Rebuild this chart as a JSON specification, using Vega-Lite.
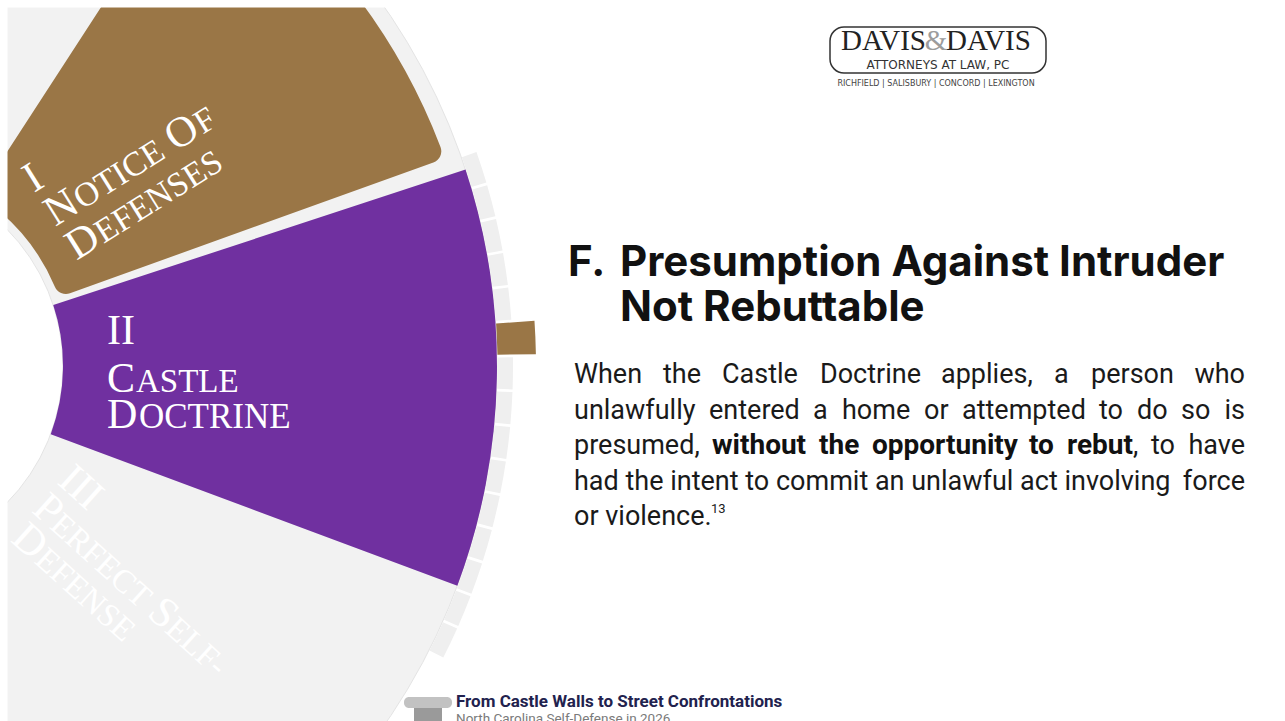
{
  "$schema": "https://vega.github.io/schema/vega-lite/v6.json",
  "width": 1285,
  "height": 721,
  "autosize": {"type": "none"},
  "padding": 0,
  "background": "white",
  "config": {"view": {"stroke": null}},
  "datasets": {
    "segments": [
      {"name": "ring", "start": 0, "end": 360},
      {"name": "I Notice of Defenses", "start": 33, "end": 70.2},
      {"name": "II Castle Doctrine", "start": 71.8, "end": 110.45}
    ],
    "ticks": [
      {"seg": 1, "start": 70.5, "end": 73.6, "kind": "rest"},
      {"seg": 2, "start": 73.6, "end": 76.7, "kind": "rest"},
      {"seg": 3, "start": 76.7, "end": 79.8, "kind": "rest"},
      {"seg": 4, "start": 79.8, "end": 82.9, "kind": "rest"},
      {"seg": 5, "start": 82.9, "end": 86.0, "kind": "rest"},
      {"seg": 6, "start": 86.0, "end": 89.1, "kind": "current"},
      {"seg": 7, "start": 89.1, "end": 92.2, "kind": "rest"},
      {"seg": 8, "start": 92.2, "end": 95.3, "kind": "rest"},
      {"seg": 9, "start": 95.3, "end": 98.4, "kind": "rest"},
      {"seg": 10, "start": 98.4, "end": 101.5, "kind": "rest"},
      {"seg": 11, "start": 101.5, "end": 104.6, "kind": "rest"},
      {"seg": 12, "start": 104.6, "end": 107.7, "kind": "rest"},
      {"seg": 13, "start": 107.7, "end": 110.8, "kind": "rest"},
      {"seg": 14, "start": 110.8, "end": 113.9, "kind": "rest"},
      {"seg": 15, "start": 113.9, "end": 117.0, "kind": "rest"}
    ]
  },
  "layer": [
    {
      "data": {"name": "segments"},
      "transform": [{"filter": "datum.name == 'ring'"}],
      "mark": {"type": "arc", "x": -132, "y": 366, "radius": 629, "radius2": 195, "fill": "#f2f2f2", "stroke": "#e4e4e4", "strokeWidth": 1},
      "encoding": {
        "theta": {"field": "start", "type": "quantitative", "stack": null, "scale": {"domain": [0, 360], "range": [0, 6.283185307179586]}},
        "theta2": {"field": "end"}
      }
    },
    {
      "data": {"name": "segments"},
      "transform": [{"filter": "datum.name == 'I Notice of Defenses'"}],
      "mark": {"type": "arc", "x": -132, "y": 366, "radius": 613, "radius2": 203, "cornerRadius": 12, "fill": "#9a7646"},
      "encoding": {
        "theta": {"field": "start", "type": "quantitative", "stack": null, "scale": {"domain": [0, 360], "range": [0, 6.283185307179586]}},
        "theta2": {"field": "end"}
      }
    },
    {
      "data": {"name": "segments"},
      "transform": [{"filter": "datum.name == 'II Castle Doctrine'"}],
      "mark": {"type": "arc", "x": -132, "y": 366, "radius": 629, "radius2": 195, "fill": "#7030a0"},
      "encoding": {
        "theta": {"field": "start", "type": "quantitative", "stack": null, "scale": {"domain": [0, 360], "range": [0, 6.283185307179586]}},
        "theta2": {"field": "end"}
      }
    },
    {
      "data": {"name": "ticks"},
      "transform": [{"filter": "datum.kind == 'rest'"}],
      "mark": {"type": "arc", "x": -132, "y": 366, "radius": 645, "radius2": 629.5, "padAngle": 0.003, "fill": "#efefef"},
      "encoding": {
        "theta": {"field": "start", "type": "quantitative", "stack": null, "scale": {"domain": [0, 360], "range": [0, 6.283185307179586]}},
        "theta2": {"field": "end"}
      }
    },
    {
      "data": {"name": "ticks"},
      "transform": [{"filter": "datum.kind == 'current'"}],
      "mark": {"type": "arc", "x": -132, "y": 366, "radius": 668, "radius2": 629.5, "padAngle": 0.003, "fill": "#9a7646"},
      "encoding": {
        "theta": {"field": "start", "type": "quantitative", "stack": null, "scale": {"domain": [0, 360], "range": [0, 6.283185307179586]}},
        "theta2": {"field": "end"}
      }
    },

    {"data": {"values": [{"label": "I"}]}, "mark": {"type": "text", "x": 34, "y": 193, "angle": 328, "dx": 0, "dy": 0, "align": "left", "baseline": "alphabetic", "font": "Liberation Serif", "fontSize": 43, "fill": "white"}, "encoding": {"text": {"field": "label"}}},
    {"data": {"values": [{"label": "N"}]}, "mark": {"type": "text", "x": 34, "y": 193, "angle": 328, "dx": 0, "dy": 40, "align": "left", "baseline": "alphabetic", "font": "Liberation Serif", "fontSize": 43, "fill": "white"}, "encoding": {"text": {"field": "label"}}},
    {"data": {"values": [{"label": "OTICE"}]}, "mark": {"type": "text", "x": 34, "y": 193, "angle": 328, "dx": 32, "dy": 40, "align": "left", "baseline": "alphabetic", "font": "Liberation Serif", "fontSize": 34, "fill": "white"}, "encoding": {"text": {"field": "label"}}},
    {"data": {"values": [{"label": "O"}]}, "mark": {"type": "text", "x": 34, "y": 193, "angle": 328, "dx": 142, "dy": 40, "align": "left", "baseline": "alphabetic", "font": "Liberation Serif", "fontSize": 43, "fill": "white"}, "encoding": {"text": {"field": "label"}}},
    {"data": {"values": [{"label": "F"}]}, "mark": {"type": "text", "x": 34, "y": 193, "angle": 328, "dx": 174, "dy": 40, "align": "left", "baseline": "alphabetic", "font": "Liberation Serif", "fontSize": 34, "fill": "white"}, "encoding": {"text": {"field": "label"}}},
    {"data": {"values": [{"label": "D"}]}, "mark": {"type": "text", "x": 34, "y": 193, "angle": 328, "dx": 0, "dy": 80, "align": "left", "baseline": "alphabetic", "font": "Liberation Serif", "fontSize": 43, "fill": "white"}, "encoding": {"text": {"field": "label"}}},
    {"data": {"values": [{"label": "EFENSES"}]}, "mark": {"type": "text", "x": 34, "y": 193, "angle": 328, "dx": 32, "dy": 80, "align": "left", "baseline": "alphabetic", "font": "Liberation Serif", "fontSize": 34, "fill": "white"}, "encoding": {"text": {"field": "label"}}},

    {"data": {"values": [{"label": "II"}]}, "mark": {"type": "text", "x": 107, "y": 344, "dx": 0, "dy": 0, "align": "left", "baseline": "alphabetic", "font": "Liberation Serif", "fontSize": 42, "fill": "white"}, "encoding": {"text": {"field": "label"}}},
    {"data": {"values": [{"label": "C"}]}, "mark": {"type": "text", "x": 107, "y": 344, "dx": 0, "dy": 48, "align": "left", "baseline": "alphabetic", "font": "Liberation Serif", "fontSize": 42, "fill": "white"}, "encoding": {"text": {"field": "label"}}},
    {"data": {"values": [{"label": "ASTLE"}]}, "mark": {"type": "text", "x": 107, "y": 344, "dx": 29, "dy": 48, "align": "left", "baseline": "alphabetic", "font": "Liberation Serif", "fontSize": 33, "fill": "white"}, "encoding": {"text": {"field": "label"}}},
    {"data": {"values": [{"label": "D"}]}, "mark": {"type": "text", "x": 107, "y": 344, "dx": 0, "dy": 84, "align": "left", "baseline": "alphabetic", "font": "Liberation Serif", "fontSize": 42, "fill": "white"}, "encoding": {"text": {"field": "label"}}},
    {"data": {"values": [{"label": "OCTRINE"}]}, "mark": {"type": "text", "x": 107, "y": 344, "dx": 32, "dy": 84, "align": "left", "baseline": "alphabetic", "font": "Liberation Serif", "fontSize": 35, "fill": "white"}, "encoding": {"text": {"field": "label"}}},

    {"data": {"values": [{"label": "III"}]}, "mark": {"type": "text", "x": 56, "y": 483, "angle": 42, "dx": 0, "dy": 0, "align": "left", "baseline": "alphabetic", "font": "Liberation Serif", "fontSize": 43, "fill": "white"}, "encoding": {"text": {"field": "label"}}},
    {"data": {"values": [{"label": "P"}]}, "mark": {"type": "text", "x": 56, "y": 483, "angle": 42, "dx": 0, "dy": 38, "align": "left", "baseline": "alphabetic", "font": "Liberation Serif", "fontSize": 43, "fill": "white"}, "encoding": {"text": {"field": "label"}}},
    {"data": {"values": [{"label": "ERFECT"}]}, "mark": {"type": "text", "x": 56, "y": 483, "angle": 42, "dx": 24, "dy": 38, "align": "left", "baseline": "alphabetic", "font": "Liberation Serif", "fontSize": 33, "fill": "white"}, "encoding": {"text": {"field": "label"}}},
    {"data": {"values": [{"label": "S"}]}, "mark": {"type": "text", "x": 56, "y": 483, "angle": 42, "dx": 155, "dy": 38, "align": "left", "baseline": "alphabetic", "font": "Liberation Serif", "fontSize": 43, "fill": "white"}, "encoding": {"text": {"field": "label"}}},
    {"data": {"values": [{"label": "ELF-"}]}, "mark": {"type": "text", "x": 56, "y": 483, "angle": 42, "dx": 179, "dy": 38, "align": "left", "baseline": "alphabetic", "font": "Liberation Serif", "fontSize": 33, "fill": "white"}, "encoding": {"text": {"field": "label"}}},
    {"data": {"values": [{"label": "D"}]}, "mark": {"type": "text", "x": 56, "y": 483, "angle": 42, "dx": 4, "dy": 74, "align": "left", "baseline": "alphabetic", "font": "Liberation Serif", "fontSize": 43, "fill": "white"}, "encoding": {"text": {"field": "label"}}},
    {"data": {"values": [{"label": "EFENSE"}]}, "mark": {"type": "text", "x": 56, "y": 483, "angle": 42, "dx": 36, "dy": 74, "align": "left", "baseline": "alphabetic", "font": "Liberation Serif", "fontSize": 33, "fill": "white"}, "encoding": {"text": {"field": "label"}}},

    {"data": {"values": [{"label": "F."}]}, "mark": {"type": "text", "x": 568, "y": 276, "align": "left", "baseline": "alphabetic", "font": "Inter", "fontWeight": "bold", "fontSize": 42, "fill": "#111111"}, "encoding": {"text": {"field": "label"}}},
    {"data": {"values": [{"label": "Presumption Against Intruder"}]}, "mark": {"type": "text", "x": 620, "y": 276, "align": "left", "baseline": "alphabetic", "font": "Inter", "fontWeight": "bold", "fontSize": 42, "fill": "#111111"}, "encoding": {"text": {"field": "label"}}},
    {"data": {"values": [{"label": "Not Rebuttable"}]}, "mark": {"type": "text", "x": 620, "y": 321, "align": "left", "baseline": "alphabetic", "font": "Inter", "fontWeight": "bold", "fontSize": 42, "fill": "#111111"}, "encoding": {"text": {"field": "label"}}},

    {"data": {"values": [{"label": "When"}]}, "mark": {"type": "text", "x": 574, "y": 383, "align": "left", "baseline": "alphabetic", "font": "Roboto", "fontSize": 27, "fill": "#1a1a1a"}, "encoding": {"text": {"field": "label"}}},
    {"data": {"values": [{"label": "the"}]}, "mark": {"type": "text", "x": 663, "y": 383, "align": "left", "baseline": "alphabetic", "font": "Roboto", "fontSize": 27, "fill": "#1a1a1a"}, "encoding": {"text": {"field": "label"}}},
    {"data": {"values": [{"label": "Castle"}]}, "mark": {"type": "text", "x": 722, "y": 383, "align": "left", "baseline": "alphabetic", "font": "Roboto", "fontSize": 27, "fill": "#1a1a1a"}, "encoding": {"text": {"field": "label"}}},
    {"data": {"values": [{"label": "Doctrine"}]}, "mark": {"type": "text", "x": 820, "y": 383, "align": "left", "baseline": "alphabetic", "font": "Roboto", "fontSize": 27, "fill": "#1a1a1a"}, "encoding": {"text": {"field": "label"}}},
    {"data": {"values": [{"label": "applies,"}]}, "mark": {"type": "text", "x": 941, "y": 383, "align": "left", "baseline": "alphabetic", "font": "Roboto", "fontSize": 27, "fill": "#1a1a1a"}, "encoding": {"text": {"field": "label"}}},
    {"data": {"values": [{"label": "a"}]}, "mark": {"type": "text", "x": 1054, "y": 383, "align": "left", "baseline": "alphabetic", "font": "Roboto", "fontSize": 27, "fill": "#1a1a1a"}, "encoding": {"text": {"field": "label"}}},
    {"data": {"values": [{"label": "person"}]}, "mark": {"type": "text", "x": 1091, "y": 383, "align": "left", "baseline": "alphabetic", "font": "Roboto", "fontSize": 27, "fill": "#1a1a1a"}, "encoding": {"text": {"field": "label"}}},
    {"data": {"values": [{"label": "who"}]}, "mark": {"type": "text", "x": 1245, "y": 383, "align": "right", "baseline": "alphabetic", "font": "Roboto", "fontSize": 27, "fill": "#1a1a1a"}, "encoding": {"text": {"field": "label"}}},

    {"data": {"values": [{"label": "unlawfully"}]}, "mark": {"type": "text", "x": 574, "y": 418.5, "align": "left", "baseline": "alphabetic", "font": "Roboto", "fontSize": 27, "fill": "#1a1a1a"}, "encoding": {"text": {"field": "label"}}},
    {"data": {"values": [{"label": "entered"}]}, "mark": {"type": "text", "x": 709, "y": 418.5, "align": "left", "baseline": "alphabetic", "font": "Roboto", "fontSize": 27, "fill": "#1a1a1a"}, "encoding": {"text": {"field": "label"}}},
    {"data": {"values": [{"label": "a"}]}, "mark": {"type": "text", "x": 813, "y": 418.5, "align": "left", "baseline": "alphabetic", "font": "Roboto", "fontSize": 27, "fill": "#1a1a1a"}, "encoding": {"text": {"field": "label"}}},
    {"data": {"values": [{"label": "home"}]}, "mark": {"type": "text", "x": 842, "y": 418.5, "align": "left", "baseline": "alphabetic", "font": "Roboto", "fontSize": 27, "fill": "#1a1a1a"}, "encoding": {"text": {"field": "label"}}},
    {"data": {"values": [{"label": "or"}]}, "mark": {"type": "text", "x": 924, "y": 418.5, "align": "left", "baseline": "alphabetic", "font": "Roboto", "fontSize": 27, "fill": "#1a1a1a"}, "encoding": {"text": {"field": "label"}}},
    {"data": {"values": [{"label": "attempted"}]}, "mark": {"type": "text", "x": 962, "y": 418.5, "align": "left", "baseline": "alphabetic", "font": "Roboto", "fontSize": 27, "fill": "#1a1a1a"}, "encoding": {"text": {"field": "label"}}},
    {"data": {"values": [{"label": "to"}]}, "mark": {"type": "text", "x": 1099, "y": 418.5, "align": "left", "baseline": "alphabetic", "font": "Roboto", "fontSize": 27, "fill": "#1a1a1a"}, "encoding": {"text": {"field": "label"}}},
    {"data": {"values": [{"label": "do"}]}, "mark": {"type": "text", "x": 1137, "y": 418.5, "align": "left", "baseline": "alphabetic", "font": "Roboto", "fontSize": 27, "fill": "#1a1a1a"}, "encoding": {"text": {"field": "label"}}},
    {"data": {"values": [{"label": "so"}]}, "mark": {"type": "text", "x": 1181, "y": 418.5, "align": "left", "baseline": "alphabetic", "font": "Roboto", "fontSize": 27, "fill": "#1a1a1a"}, "encoding": {"text": {"field": "label"}}},
    {"data": {"values": [{"label": "is"}]}, "mark": {"type": "text", "x": 1245, "y": 418.5, "align": "right", "baseline": "alphabetic", "font": "Roboto", "fontSize": 27, "fill": "#1a1a1a"}, "encoding": {"text": {"field": "label"}}},

    {"data": {"values": [{"label": "presumed,"}]}, "mark": {"type": "text", "x": 574, "y": 454, "align": "left", "baseline": "alphabetic", "font": "Roboto", "fontSize": 27, "fill": "#1a1a1a"}, "encoding": {"text": {"field": "label"}}},
    {"data": {"values": [{"label": "without"}]}, "mark": {"type": "text", "x": 712, "y": 454, "align": "left", "baseline": "alphabetic", "font": "Roboto", "fontWeight": "bold", "fontSize": 28, "fill": "#111111"}, "encoding": {"text": {"field": "label"}}},
    {"data": {"values": [{"label": "the"}]}, "mark": {"type": "text", "x": 819, "y": 454, "align": "left", "baseline": "alphabetic", "font": "Roboto", "fontWeight": "bold", "fontSize": 28, "fill": "#111111"}, "encoding": {"text": {"field": "label"}}},
    {"data": {"values": [{"label": "opportunity"}]}, "mark": {"type": "text", "x": 872, "y": 454, "align": "left", "baseline": "alphabetic", "font": "Roboto", "fontWeight": "bold", "fontSize": 28, "fill": "#111111"}, "encoding": {"text": {"field": "label"}}},
    {"data": {"values": [{"label": "to"}]}, "mark": {"type": "text", "x": 1029, "y": 454, "align": "left", "baseline": "alphabetic", "font": "Roboto", "fontWeight": "bold", "fontSize": 28, "fill": "#111111"}, "encoding": {"text": {"field": "label"}}},
    {"data": {"values": [{"label": "rebut"}]}, "mark": {"type": "text", "x": 1133, "y": 454, "align": "right", "baseline": "alphabetic", "font": "Roboto", "fontWeight": "bold", "fontSize": 28, "fill": "#111111"}, "encoding": {"text": {"field": "label"}}},
    {"data": {"values": [{"label": ","}]}, "mark": {"type": "text", "x": 1133, "y": 454, "align": "left", "baseline": "alphabetic", "font": "Roboto", "fontSize": 27, "fill": "#1a1a1a"}, "encoding": {"text": {"field": "label"}}},
    {"data": {"values": [{"label": "to"}]}, "mark": {"type": "text", "x": 1151, "y": 454, "align": "left", "baseline": "alphabetic", "font": "Roboto", "fontSize": 27, "fill": "#1a1a1a"}, "encoding": {"text": {"field": "label"}}},
    {"data": {"values": [{"label": "have"}]}, "mark": {"type": "text", "x": 1245, "y": 454, "align": "right", "baseline": "alphabetic", "font": "Roboto", "fontSize": 27, "fill": "#1a1a1a"}, "encoding": {"text": {"field": "label"}}},
    {"data": {"values": [{}]}, "mark": {"type": "rule", "x": 712, "x2": 1133, "y": 458, "stroke": "#111111", "strokeWidth": 2.2}, "encoding": {}},

    {"data": {"values": [{"label": "had the intent to commit an unlawful act involving"}]}, "mark": {"type": "text", "x": 574, "y": 489.5, "align": "left", "baseline": "alphabetic", "font": "Roboto", "fontSize": 27, "fill": "#1a1a1a"}, "encoding": {"text": {"field": "label"}}},
    {"data": {"values": [{"label": "force"}]}, "mark": {"type": "text", "x": 1245, "y": 489.5, "align": "right", "baseline": "alphabetic", "font": "Roboto", "fontSize": 27, "fill": "#1a1a1a"}, "encoding": {"text": {"field": "label"}}},
    {"data": {"values": [{"label": "or violence."}]}, "mark": {"type": "text", "x": 574, "y": 525, "align": "left", "baseline": "alphabetic", "font": "Roboto", "fontSize": 27, "fill": "#1a1a1a"}, "encoding": {"text": {"field": "label"}}},
    {"data": {"values": [{"label": "13"}]}, "mark": {"type": "text", "x": 711, "y": 513, "align": "left", "baseline": "alphabetic", "font": "Roboto", "fontSize": 13, "fill": "#1a1a1a"}, "encoding": {"text": {"field": "label"}}},

    {"data": {"values": [{}]}, "mark": {"type": "rect", "x": 830, "x2": 1046, "y": 27, "y2": 73, "cornerRadius": 14, "fill": "transparent", "stroke": "#333333", "strokeWidth": 1.5}, "encoding": {}},
    {"data": {"values": [{"label": "DAVIS"}]}, "mark": {"type": "text", "x": 926, "y": 50, "align": "right", "baseline": "alphabetic", "font": "Liberation Serif", "fontSize": 29, "fill": "#222222"}, "encoding": {"text": {"field": "label"}}},
    {"data": {"values": [{"label": "&"}]}, "mark": {"type": "text", "x": 936, "y": 50, "align": "center", "baseline": "alphabetic", "font": "Liberation Serif", "fontSize": 29, "fill": "#9c9c9c"}, "encoding": {"text": {"field": "label"}}},
    {"data": {"values": [{"label": "DAVIS"}]}, "mark": {"type": "text", "x": 946, "y": 50, "align": "left", "baseline": "alphabetic", "font": "Liberation Serif", "fontSize": 29, "fill": "#222222"}, "encoding": {"text": {"field": "label"}}},
    {"data": {"values": [{"label": "ATTORNEYS AT LAW, PC"}]}, "mark": {"type": "text", "x": 938, "y": 69, "align": "center", "baseline": "alphabetic", "font": "DejaVu Sans", "fontSize": 12, "fill": "#333333"}, "encoding": {"text": {"field": "label"}}},
    {"data": {"values": [{"label": "RICHFIELD | SALISBURY | CONCORD | LEXINGTON"}]}, "mark": {"type": "text", "x": 936, "y": 86, "align": "center", "baseline": "alphabetic", "font": "DejaVu Sans", "fontSize": 8, "fill": "#444444"}, "encoding": {"text": {"field": "label"}}},

    {"data": {"values": [{}]}, "mark": {"type": "rule", "x": 415, "x2": 1285, "y": 685, "stroke": "#eeeeee", "strokeWidth": 2}, "encoding": {}},
    {"data": {"values": [{}]}, "mark": {"type": "rect", "x": 404, "x2": 452, "y": 697, "y2": 708, "cornerRadius": 5, "fill": "#c2c2c2"}, "encoding": {}},
    {"data": {"values": [{}]}, "mark": {"type": "rect", "x": 414, "x2": 442, "y": 708, "y2": 721, "fill": "#9a9a9a"}, "encoding": {}},
    {"data": {"values": [{"label": "From Castle Walls to Street Confrontations"}]}, "mark": {"type": "text", "x": 456, "y": 707, "align": "left", "baseline": "alphabetic", "font": "Roboto", "fontWeight": "bold", "fontSize": 17, "fill": "#22224e"}, "encoding": {"text": {"field": "label"}}},
    {"data": {"values": [{"label": "North Carolina Self-Defense in 2026"}]}, "mark": {"type": "text", "x": 456, "y": 723, "align": "left", "baseline": "alphabetic", "font": "Roboto", "fontSize": 13.5, "fill": "#7a7a7a"}, "encoding": {"text": {"field": "label"}}},

    {"data": {"values": [{}]}, "mark": {"type": "rect", "x": 0, "x2": 7.5, "y": 0, "y2": 721, "fill": "white"}, "encoding": {}},
    {"data": {"values": [{}]}, "mark": {"type": "rect", "x": 0, "x2": 1285, "y": 0, "y2": 7.5, "fill": "white"}, "encoding": {}},
    {"data": {"values": [{}]}, "mark": {"type": "rule", "x": 8.75, "y": 7.5, "y2": 721, "stroke": "#000000", "strokeWidth": 2.5}, "encoding": {}},
    {"data": {"values": [{}]}, "mark": {"type": "rule", "x": 7.5, "x2": 1285, "y": 8.75, "stroke": "#000000", "strokeWidth": 2.5}, "encoding": {}}
  ]
}
